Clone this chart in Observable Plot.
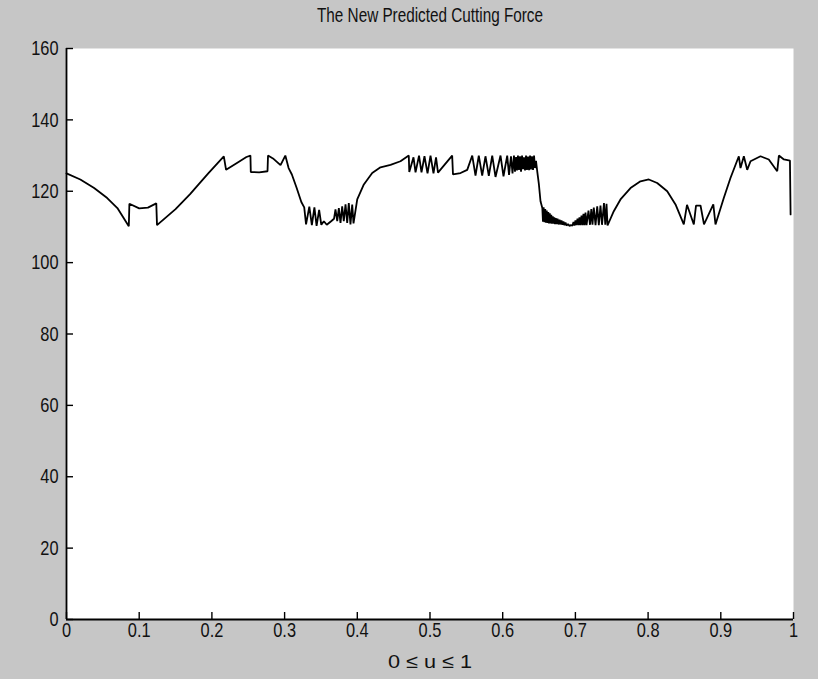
<!DOCTYPE html>
<html>
<head>
<meta charset="utf-8">
<script src="https://cdn.jsdelivr.net/npm/d3@7"></script>
<script src="https://cdn.jsdelivr.net/npm/@observablehq/plot@0.6"></script>
<style>
  html, body { margin: 0; padding: 0; background: #c6c6c6; }
  #chart svg { display: block; }
</style>
</head>
<body>
<div id="chart"></div>
<script>
const title = "The New Predicted Cutting Force";
const xLabel = "0 \u2264 u \u2264 1";
const xTicks = [0, 0.1, 0.2, 0.3, 0.4, 0.5, 0.6, 0.7, 0.8, 0.9, 1];
const xTickLabels = ["0", "0.1", "0.2", "0.3", "0.4", "0.5", "0.6", "0.7", "0.8", "0.9", "1"];
const yTicks = [0, 20, 40, 60, 80, 100, 120, 140, 160];

const u = [
  0.000, 0.019, 0.038, 0.056, 0.070, 0.0857, 0.0865, 0.100, 0.112, 0.1235, 0.1245,
  0.150, 0.170, 0.182, 0.195, 0.2164, 0.2195, 0.235, 0.2475, 0.253, 0.2535, 0.265, 0.2765,
  0.2772, 0.284, 0.2944, 0.301, 0.3055, 0.3100, 0.3165, 0.3230, 0.3270, 0.3295,
  0.3340, 0.3375, 0.3410, 0.3440, 0.3475, 0.3505, 0.3540, 0.3580, 0.3640, 0.3680,
  0.3700, 0.3724, 0.3746, 0.3769, 0.3792, 0.3814, 0.3838, 0.3861, 0.3883, 0.3906, 0.3930, 0.3948,
  0.3999, 0.4090, 0.4205, 0.4319, 0.4457, 0.4594, 0.4708, 0.4715,
  0.4773, 0.4801, 0.4849, 0.4883, 0.4924, 0.4966, 0.5007, 0.5048, 0.5083, 0.5110,
  0.5305, 0.5316, 0.5420, 0.5512, 0.5581, 0.5626, 0.5671, 0.5718, 0.5763, 0.5809, 0.5856, 0.5901,
  0.5970, 0.6011, 0.6062, 0.6087, 0.6114, 0.6135, 0.6155,
  0.6169, 0.6183, 0.6197, 0.6210, 0.6224, 0.6238, 0.6252, 0.6266, 0.6279, 0.6293, 0.6307,
  0.6321, 0.6334, 0.6348, 0.6362, 0.6376, 0.6389, 0.6403, 0.6417, 0.6431, 0.6444, 0.6458,
  0.6475, 0.6498, 0.6520, 0.6545,
  0.6554, 0.6563, 0.6575, 0.6585, 0.6595, 0.6606, 0.6616, 0.6627, 0.6637, 0.6648, 0.6657,
  0.6668, 0.6678, 0.6689, 0.6699, 0.6710, 0.6720, 0.6730, 0.6740, 0.6754, 0.6768, 0.6782,
  0.6795, 0.6809, 0.6823, 0.6836, 0.6850, 0.6864, 0.6878, 0.6898, 0.6919, 0.6939,
  0.6960, 0.6974, 0.6988, 0.7001, 0.7015, 0.7029, 0.7043, 0.7056, 0.7070, 0.7084, 0.7098,
  0.7111, 0.7125, 0.7139, 0.7153,
  0.7180, 0.7201, 0.7219, 0.7235, 0.7253, 0.7277, 0.7300, 0.7322, 0.7345, 0.7366, 0.7393,
  0.7411, 0.7428, 0.7442,
  0.7528, 0.7620, 0.7758, 0.7895, 0.8010, 0.8125, 0.8263, 0.8377, 0.8491,
  0.8535, 0.8629, 0.8659, 0.8721, 0.8769, 0.8897, 0.8927,
  0.9041, 0.9133, 0.9248, 0.9271, 0.9317, 0.9363, 0.9409, 0.9546, 0.9660, 0.9776, 0.9799,
  0.9868, 0.9951, 0.9960
];

const force = [
  125.0, 123.3, 120.9, 118.1, 115.3, 110.2, 116.5, 115.2, 115.4, 116.6, 110.5,
  115.0, 119.2, 122.0, 125.0, 129.8, 126.0, 128.0, 129.6, 130.0, 125.4, 125.3, 125.6,
  130.0, 129.2, 127.3, 130.0, 126.5, 124.7, 121.0, 117.0, 115.5, 110.7,
  115.7, 110.5, 115.5, 110.3, 114.8, 110.6, 111.6, 110.6, 111.6, 112.3,
  114.9, 111.6, 115.3, 111.1, 115.8, 111.6, 116.3, 111.1, 116.7, 110.7, 116.3, 111.0,
  117.7, 121.9, 125.1, 126.7, 127.4, 128.4, 130.0, 125.4,
  129.5, 125.3, 130.0, 125.3, 129.8, 125.0, 130.0, 125.0, 129.5, 125.2,
  130.0, 124.7, 125.1, 126.0, 130.0, 124.4, 130.0, 124.4, 129.8, 124.3, 130.0, 124.0,
  130.0, 124.2, 130.0, 124.6, 129.8, 125.0, 130.0,
  125.5, 129.6, 125.8, 130.0, 126.0, 129.8, 125.5, 130.0, 126.2, 129.5, 125.8,
  130.0, 126.0, 129.7, 125.9, 130.0, 126.1, 129.8, 126.0, 130.0, 126.5, 128.5,
  125.6, 121.9, 117.2, 115.3,
  111.5, 115.5, 111.3, 115.0, 111.2, 114.6, 111.1, 114.2, 111.0, 113.8, 111.0,
  113.4, 110.9, 113.0, 110.9, 112.7, 110.8, 112.5, 110.8, 112.3, 110.7, 112.0,
  110.7, 111.8, 110.6, 111.5, 110.5, 111.2, 110.4, 110.8, 110.3, 110.5,
  110.4, 111.4, 110.4, 111.8, 110.5, 112.3, 110.5, 112.7, 110.5, 113.2, 110.5,
  113.7, 110.5, 114.0, 110.5,
  114.6, 110.6, 115.0, 110.6, 115.4, 110.5, 115.8, 110.5, 116.0, 110.6, 116.7,
  110.6, 116.5, 110.4,
  114.4, 117.7, 120.9, 122.8, 123.3, 122.3, 120.0, 116.3, 110.7,
  116.2, 110.7, 116.0, 116.0, 110.7, 116.3, 110.7,
  118.1, 123.7, 129.8, 126.5, 129.8, 126.0, 128.4, 129.8, 128.9, 125.6, 130.0,
  128.9, 128.6, 113.5
];

const data = u.map((x, i) => ({u: x, f: force[i]}));
const fontFamily = "'Liberation Sans', Arial, sans-serif";

const chart = Plot.plot({
  width: 818,
  height: 679,
  marginLeft: 66,
  marginRight: 25,
  marginTop: 48,
  marginBottom: 60,
  style: {background: "transparent", fontFamily, fontSize: "21px", color: "#111"},
  x: {domain: [0, 1]},
  y: {domain: [0, 160]},
  marks: [
    Plot.frame({fill: "white", stroke: "none"}),
    Plot.tickX(xTicks, {x: d => d, insetTop: 564, stroke: "black", strokeWidth: 1.4}),
    Plot.tickY(yTicks, {y: d => d, insetRight: 720, stroke: "black", strokeWidth: 1.4}),
    Plot.ruleX([0], {stroke: "black", strokeWidth: 1.8}),
    Plot.ruleY([0], {stroke: "black", strokeWidth: 1.8}),
    Plot.axisX({ticks: xTicks, tickFormat: (d, i) => xTickLabels[i], tickSize: 0, tickPadding: 3, label: null, fontSize: 21}),
    Plot.axisY({ticks: yTicks, tickSize: 0, tickPadding: 8, label: null, fontSize: 21}),
    Plot.line(data, {x: "u", y: "f", stroke: "black", strokeWidth: 1.8, strokeLinejoin: "miter"}),
    Plot.text([title], {text: d => d, frameAnchor: "top", dy: -33, lineAnchor: "middle", fontSize: 20, fill: "#111"}),
    Plot.text([xLabel], {text: d => d, frameAnchor: "bottom", dy: 42, lineAnchor: "middle", fontSize: 19, fill: "#111"})
  ]
});
document.getElementById("chart").appendChild(chart);

// condense the glyphs horizontally, like the narrow face of the original
d3.select(chart).selectAll("text").each(function () {
  const s = this.textContent;
  const len = this.getComputedTextLength();
  if (len <= 0) return;
  let target = len * 0.78;
  if (s === title) target = 226;
  if (s === xLabel) target = 84;
  this.setAttribute("textLength", target.toFixed(1));
  this.setAttribute("lengthAdjust", "spacingAndGlyphs");
});
</script>
</body>
</html>
